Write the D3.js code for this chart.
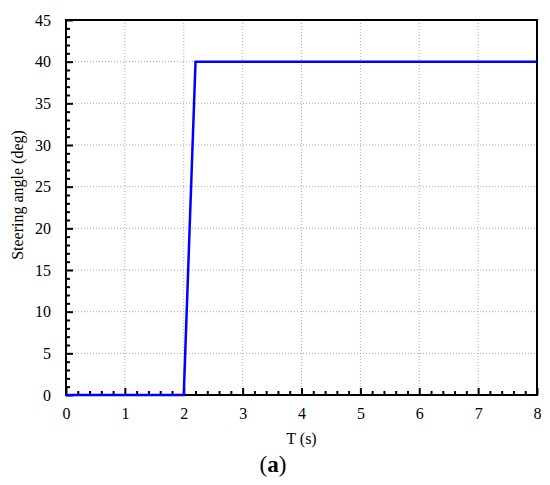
<!DOCTYPE html>
<html><head><meta charset="utf-8">
<script src="https://cdn.jsdelivr.net/npm/d3@7"></script>
<style>body{margin:0;background:#fff} text{font-family:"Liberation Serif","Times New Roman",serif}</style>
</head><body>
<svg id="c" width="550" height="485"></svg>
<script>
const timeValues = [0, 2, 2.2, 8];
const angleValues = [0, 0, 40, 40];
const xTicks = [0,1,2,3,4,5,6,7,8];
const yTicks = [0,5,10,15,20,25,30,35,40,45];

const svg = d3.select("#c");
const L=66, R=537, T=20, B=395;
const x = d3.scaleLinear().domain([0,8]).range([L,R]);
const y = d3.scaleLinear().domain([0,45]).range([B,T]);
const font = "Liberation Serif, Times New Roman, serif";

// grid
const g = svg.append("g");
g.selectAll(".gx").data(xTicks.slice(1,-1)).enter().append("line")
 .attr("x1",d=>x(d)).attr("x2",d=>x(d)).attr("y1",T).attr("y2",B)
 .attr("stroke","#aaa").attr("stroke-width",1).attr("stroke-dasharray","1,2");
g.selectAll(".gy").data(yTicks.slice(1,-1)).enter().append("line")
 .attr("y1",d=>y(d)).attr("y2",d=>y(d)).attr("x1",L).attr("x2",R)
 .attr("stroke","#aaa").attr("stroke-width",1).attr("stroke-dasharray","1,2");

// axes
const xMinor = d3.range(0,8.001,0.2).filter(v=>Math.abs(v-Math.round(v))>1e-6);
const yMinor = d3.range(0,45.001,1).filter(v=>v%5!==0);
const xAx = svg.append("g").attr("transform",`translate(0,${B})`)
 .call(d3.axisBottom(x).tickValues(xTicks).tickSize(-7).tickPadding(13).tickFormat(d3.format("d")));
const xAxMinor = svg.append("g").attr("transform",`translate(0,${B})`)
 .call(d3.axisBottom(x).tickValues(xMinor).tickSize(-4).tickFormat(""));
const yAx = svg.append("g").attr("transform",`translate(${L},0)`)
 .call(d3.axisLeft(y).tickValues(yTicks).tickSize(-7).tickPadding(15).tickFormat(d3.format("d")));
const yAxMinor = svg.append("g").attr("transform",`translate(${L},0)`)
 .call(d3.axisLeft(y).tickValues(yMinor).tickSize(-4).tickFormat(""));
[xAx,xAxMinor,yAx,yAxMinor].forEach(a=>{
 a.attr("font-family",font).attr("font-size",16);
 a.select(".domain").remove();
 a.selectAll("line").attr("stroke","#000").attr("stroke-width",2);
 a.selectAll("text").attr("fill","#000");
});

// frame
svg.append("rect").attr("x",L).attr("y",T).attr("width",R-L).attr("height",B-T)
 .attr("fill","none").attr("stroke","#000").attr("stroke-width",2);

// line
svg.append("path").datum(timeValues.map((t,i)=>[t,angleValues[i]]))
 .attr("d",d3.line().x(d=>x(d[0])).y(d=>y(d[1])))
 .attr("fill","none").attr("stroke","#0000ff").attr("stroke-width",2.5);

// labels
svg.append("text").attr("x",(L+R)/2).attr("y",444).attr("text-anchor","middle")
 .attr("font-family",font).attr("font-size",16).text("T (s)");
svg.append("text").attr("transform","translate(23,195) rotate(-90)").attr("text-anchor","middle")
 .attr("font-family",font).attr("font-size",16).text("Steering angle (deg)");
const cap = svg.append("text").attr("x",273).attr("y",472).attr("text-anchor","middle")
 .attr("font-family",font).attr("font-size",23);
cap.append("tspan").text("(");
cap.append("tspan").attr("font-weight","bold").text("a");
cap.append("tspan").text(")");
</script>
</body></html>
